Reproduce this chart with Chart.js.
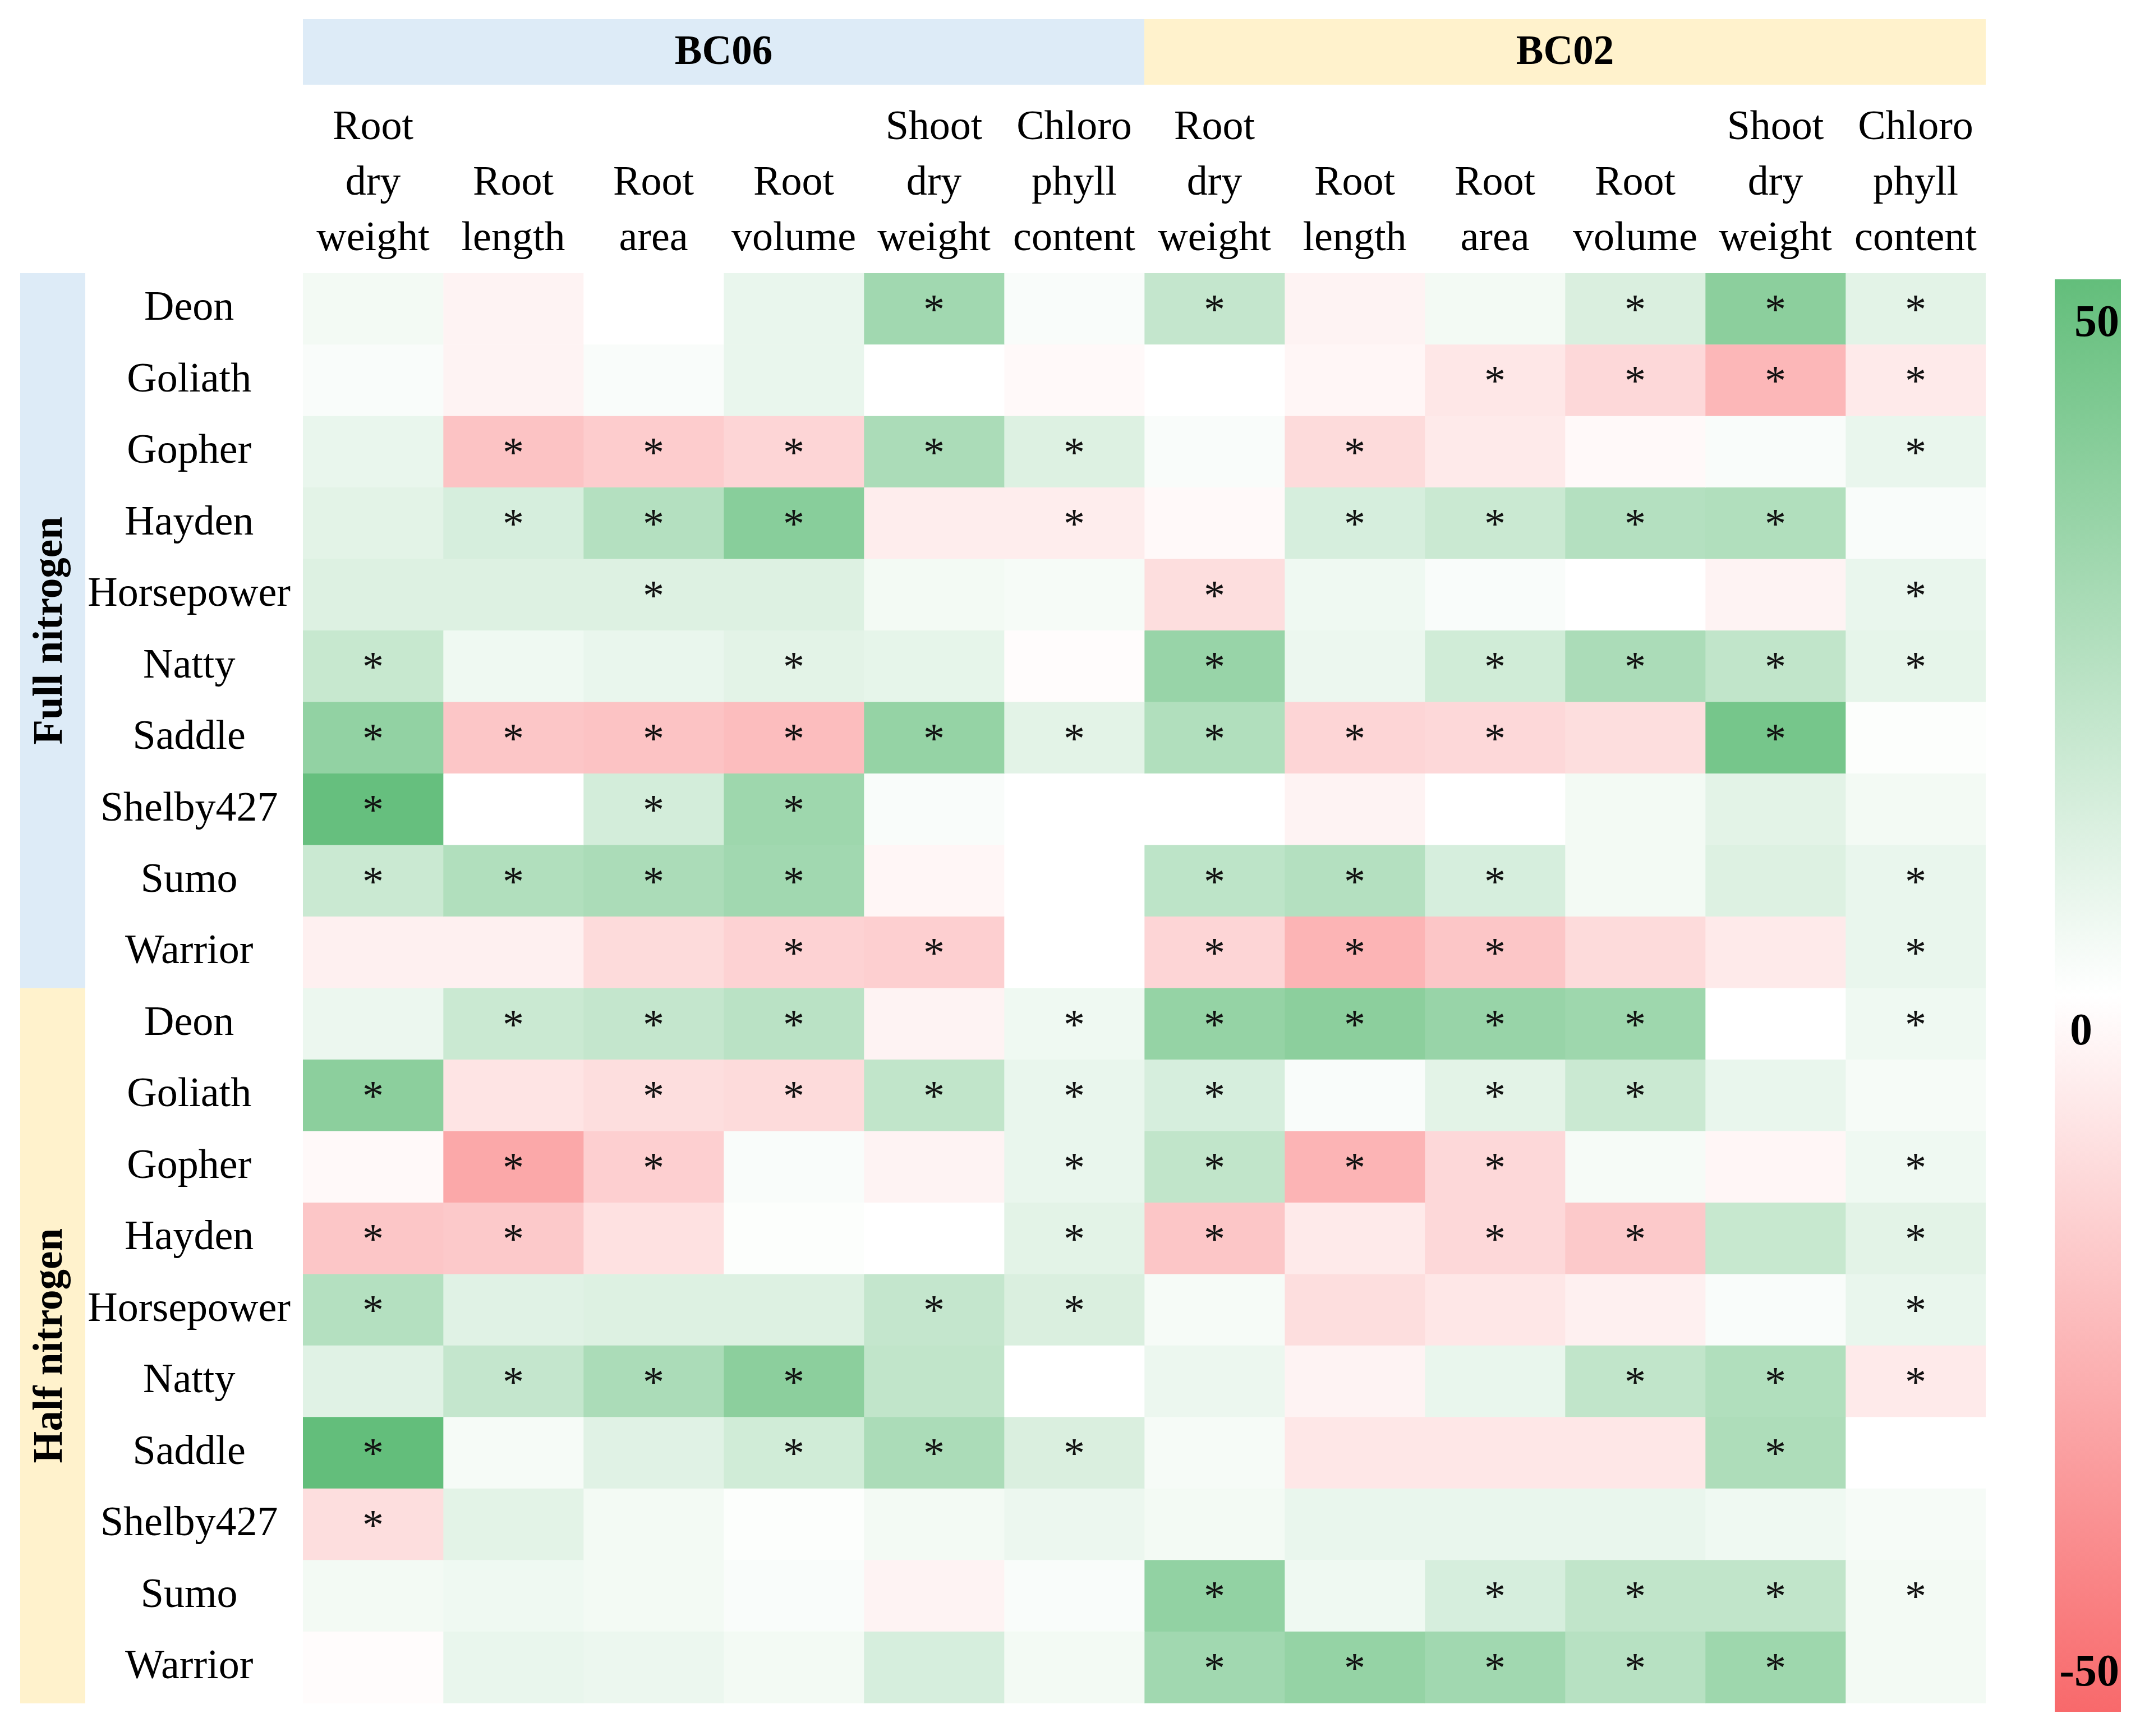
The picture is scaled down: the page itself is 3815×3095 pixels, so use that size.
<!DOCTYPE html>
<html>
<head>
<meta charset="utf-8">
<script src="https://cdn.jsdelivr.net/npm/chart.js@4.4.0/dist/chart.umd.min.js"></script>
<style>
  body { margin: 0; background: #fff; }
  canvas { display: block; }
</style>
</head>
<body>
<canvas id="heat" width="3815" height="3095"></canvas>
<script>
// cultivars (same ten in both nitrogen blocks)
const cultivars = ['Deon', 'Goliath', 'Gopher', 'Hayden', 'Horsepower', 'Natty', 'Saddle', 'Shelby427', 'Sumo', 'Warrior'];
const nitrogenGroups = ['Full nitrogen', 'Half nitrogen'];
const strainGroups = ['BC06', 'BC02'];
const traits = [['Root', 'dry', 'weight'], ['Root', 'length'], ['Root', 'area'], ['Root', 'volume'], ['Shoot', 'dry', 'weight'], ['Chloro', 'phyll', 'content']];
const colourTicks = [50, 0, -50];

// % change, rows = cultivars, cols = traits
const fullBC06 = [
  [4, -4, 0, 7, 30, 2],
  [2, -4, 2, 7, 0, -2],
  [7, -20, -17, -14, 27, 11],
  [9, 13, 24, 38, -6, -6],
  [11, 11, 11, 11, 4, 3],
  [18, 5, 7, 9, 8, -1],
  [35, -19, -20, -22, 34, 9],
  [49, 0, 14, 31, 2, 0],
  [17, 25, 27, 30, -3, 0],
  [-5, -5, -12, -15, -16, 0]
];
const fullBC02 = [
  [19, -4, 4, 12, 37, 9],
  [0, -3, -8, -13, -24, -7],
  [2, -12, -7, -2, 2, 7],
  [-2, 13, 17, 24, 25, 2],
  [-11, 5, 2, 0, -4, 7],
  [33, 6, 15, 27, 20, 8],
  [25, -14, -13, -11, 44, 1],
  [0, -4, 0, 4, 9, 4],
  [21, 24, 13, 4, 11, 7],
  [-14, -25, -19, -12, -7, 7]
];
const halfBC06 = [
  [6, 17, 19, 22, -4, 5],
  [37, -9, -11, -12, 20, 7],
  [-2, -29, -16, 2, -4, 7],
  [-19, -18, -10, 1, 0, 9],
  [24, 10, 11, 11, 19, 12],
  [10, 19, 27, 37, 20, 0],
  [50, 3, 10, 15, 27, 12],
  [-11, 9, 4, 1, 4, 6],
  [4, 5, 4, 2, -4, 2],
  [-1, 7, 6, 4, 13, 4]
];
const halfBC02 = [
  [34, 37, 33, 31, 0, 5],
  [13, 2, 9, 17, 7, 3],
  [20, -25, -13, 3, -3, 5],
  [-19, -7, -13, -18, 18, 9],
  [3, -11, -8, -5, 2, 7],
  [6, -4, 7, 20, 25, -7],
  [3, -8, -8, -8, 26, 0],
  [4, 7, 7, 7, 5, 3],
  [35, 5, 13, 20, 20, 4],
  [30, 34, 30, 23, 31, 4]
];

// significance marks (1 = *)
const sigFullBC06 = [
  [0, 0, 0, 0, 1, 0],
  [0, 0, 0, 0, 0, 0],
  [0, 1, 1, 1, 1, 1],
  [0, 1, 1, 1, 0, 1],
  [0, 0, 1, 0, 0, 0],
  [1, 0, 0, 1, 0, 0],
  [1, 1, 1, 1, 1, 1],
  [1, 0, 1, 1, 0, 0],
  [1, 1, 1, 1, 0, 0],
  [0, 0, 0, 1, 1, 0]
];
const sigFullBC02 = [
  [1, 0, 0, 1, 1, 1],
  [0, 0, 1, 1, 1, 1],
  [0, 1, 0, 0, 0, 1],
  [0, 1, 1, 1, 1, 0],
  [1, 0, 0, 0, 0, 1],
  [1, 0, 1, 1, 1, 1],
  [1, 1, 1, 0, 1, 0],
  [0, 0, 0, 0, 0, 0],
  [1, 1, 1, 0, 0, 1],
  [1, 1, 1, 0, 0, 1]
];
const sigHalfBC06 = [
  [0, 1, 1, 1, 0, 1],
  [1, 0, 1, 1, 1, 1],
  [0, 1, 1, 0, 0, 1],
  [1, 1, 0, 0, 0, 1],
  [1, 0, 0, 0, 1, 1],
  [0, 1, 1, 1, 0, 0],
  [1, 0, 0, 1, 1, 1],
  [1, 0, 0, 0, 0, 0],
  [0, 0, 0, 0, 0, 0],
  [0, 0, 0, 0, 0, 0]
];
const sigHalfBC02 = [
  [1, 1, 1, 1, 0, 1],
  [1, 0, 1, 1, 0, 0],
  [1, 1, 1, 0, 0, 1],
  [1, 0, 1, 1, 0, 1],
  [0, 0, 0, 0, 0, 1],
  [0, 0, 0, 1, 1, 1],
  [0, 0, 0, 0, 1, 0],
  [0, 0, 0, 0, 0, 0],
  [1, 0, 1, 1, 1, 1],
  [1, 1, 1, 1, 1, 0]
];

// stitch the four blocks together
const rowLabels = cultivars.concat(cultivars);
const colLabels = traits.concat(traits);
const blocks = [[fullBC06, fullBC02], [halfBC06, halfBC02]];
const sigBlocks = [[sigFullBC06, sigFullBC02], [sigHalfBC06, sigHalfBC02]];
const n = traits.length, m = cultivars.length;

function cell(src, r, c) {
  return src[Math.floor(r / m)][Math.floor(c / n)][r % m][c % n];
}

function cellColor(v) {
  const t = Math.min(Math.abs(v) / 50, 1);
  const end = v >= 0 ? [99, 190, 123] : [248, 105, 107];
  const c = end.map(e => Math.round(255 + (e - 255) * t));
  return 'rgb(' + c.join(',') + ')';
}

const datasets = colLabels.map((lab, c) => ({
  data: rowLabels.map(() => [c, c + 1]),
  backgroundColor: rowLabels.map((_, r) => cellColor(cell(blocks, r, c))),
  borderWidth: 0,
  grouped: false,
  barPercentage: 1,
  categoryPercentage: 1
}));

const serif = 'Liberation Serif';

const decorations = {
  id: 'decorations',
  afterDatasetsDraw(chart) {
    const ctx = chart.ctx;
    const x = chart.scales.x, y = chart.scales.y;
    ctx.save();

    // strain bands on top
    const bandCols = ['#DDEBF7', '#FFF2CC'];
    strainGroups.forEach((g, i) => {
      const x0 = x.getPixelForValue(i * n), x1 = x.getPixelForValue((i + 1) * n);
      ctx.fillStyle = bandCols[i];
      ctx.fillRect(x0, 34, x1 - x0, 117);
      ctx.fillStyle = '#000';
      ctx.font = 'bold 73px "' + serif + '"';
      ctx.textAlign = 'center';
      ctx.textBaseline = 'middle';
      ctx.fillText(g, (x0 + x1) / 2, 95);
    });

    // nitrogen bands on the left
    nitrogenGroups.forEach((g, i) => {
      const y0 = y.getPixelForValue(i * m - 0.5), y1 = y.getPixelForValue((i + 1) * m - 0.5);
      ctx.fillStyle = bandCols[i];
      ctx.fillRect(36, y0, 116, y1 - y0);
      ctx.save();
      ctx.translate(110, (y0 + y1) / 2);
      ctx.rotate(-Math.PI / 2);
      ctx.fillStyle = '#000';
      ctx.font = 'bold 73px "' + serif + '"';
      ctx.textAlign = 'center';
      ctx.textBaseline = 'alphabetic';
      ctx.fillText(g, 0, 0);
      ctx.restore();
    });

    // asterisks
    ctx.fillStyle = '#111';
    ctx.font = '76px "' + serif + '"';
    ctx.textAlign = 'center';
    ctx.textBaseline = 'alphabetic';
    rowLabels.forEach((_, r) => {
      colLabels.forEach((_, c) => {
        if (cell(sigBlocks, r, c)) {
          ctx.fillText('*', x.getPixelForValue(c + 0.5), y.getPixelForValue(r) + 26);
        }
      });
    });

    // colour bar
    const bx = 3663, bw = 118, by = 498, bh = 2554;
    const grad = ctx.createLinearGradient(0, by, 0, by + bh);
    grad.addColorStop(0, cellColor(50));
    grad.addColorStop(0.5, '#ffffff');
    grad.addColorStop(1, cellColor(-50));
    ctx.fillStyle = grad;
    ctx.fillRect(bx, by, bw, bh);
    ctx.fillStyle = '#000';
    ctx.font = 'bold 80px "' + serif + '"';
    ctx.textBaseline = 'middle';
    const top = by + 80, bottom = by + bh - 68;
    colourTicks.forEach(v => {
      const ty = top + (50 - v) / 100 * (bottom - top) + (v === 0 ? 60 : 0);
      if (v === 0) {
        ctx.textAlign = 'center';
        ctx.fillText(String(v), 3710, ty);
      } else {
        ctx.textAlign = 'right';
        ctx.fillText(String(v), 3778, ty);
      }
    });
    ctx.restore();
  }
};

new Chart(document.getElementById('heat'), {
  type: 'bar',
  data: { labels: rowLabels, datasets: datasets },
  options: {
    indexAxis: 'y',
    responsive: false,
    devicePixelRatio: 1,
    animation: false,
    layout: { padding: { top: 0, left: 0, right: 275, bottom: 34 } },
    plugins: { legend: { display: false }, tooltip: { enabled: false } },
    scales: {
      x: {
        type: 'linear',
        position: 'top',
        min: 0,
        max: colLabels.length,
        grid: { display: false },
        border: { display: false },
        afterBuildTicks: axis => { axis.ticks = colLabels.map((_, i) => ({ value: i + 0.5 })); },
        afterFit: s => { s.height = 487; },
        ticks: {
          autoSkip: false,
          maxRotation: 0,
          minRotation: 0,
          padding: 3,
          color: '#000',
          font: { family: serif, size: 74, lineHeight: 1.34 },
          callback: (v, i) => colLabels[i]
        }
      },
      y: {
        type: 'category',
        grid: { display: false },
        border: { display: false },
        afterFit: s => { s.width = 540; },
        ticks: {
          crossAlign: 'center',
          padding: 14,
          color: '#000',
          font: { family: serif, size: 74 }
        }
      }
    }
  },
  plugins: [decorations]
});
</script>
</body>
</html>
